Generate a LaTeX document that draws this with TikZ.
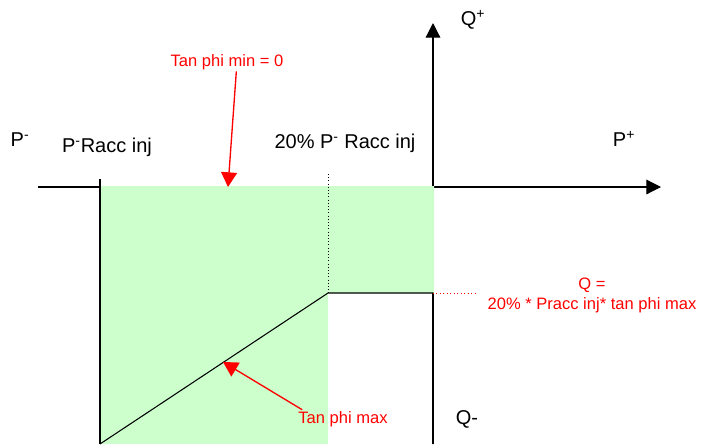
\documentclass[tikz,border=0pt]{standalone}
\usepackage{fontspec}
\setmainfont{Liberation Sans}
\usepackage{tikz}
\usetikzlibrary{arrows.meta, positioning}
\definecolor{vert}{RGB}{204,255,204}
\definecolor{rouge}{RGB}{255,0,0}

\tikzset{
	axe/.style={draw=black, line width=0.9pt, -{Triangle[length=11pt, width=11pt]}},
	trait/.style={draw=black, line width=0.8pt},
	fleche/.style={draw=rouge, line width=1pt, -{Triangle[length=11pt, width=12pt]}},
	noir/.style={inner sep=1pt, font=\fontsize{15}{17}\selectfont},
	rouget/.style={inner sep=1pt, text=rouge, font=\fontsize{12.4}{15}\selectfont, align=center}
}

\begin{document}
\begin{tikzpicture}[x=0.75pt, y=-0.75pt]
				
				\useasboundingbox (0,0) rectangle (701,444);
				
				% Points
				\coordinate (O)      at (433,187);
				\coordinate (gauche) at (38,187);
				\coordinate (droite) at (661,187);
				\coordinate (haut)   at (433,23);
				\coordinate (bas)    at (433,444);
				\coordinate (coin)   at (328,293);
				\coordinate (qmax)   at (433,293);
				
				% Axes
				\draw[axe] (gauche) -- (droite);
				\draw[axe] (bas) -- (haut);
				
				% Zone autorisee
				\fill[vert] (100,186) -- (434,186) -- (434,293) -- (328,293) -- (328,444) -- (100,444) -- cycle;
				
				% Limites
				\draw[trait] (100,179) -- (100,444);
				\draw[trait] (100,444) -- (coin) -- (qmax) -- (bas);
				\draw[black, thin, dotted] (328,174) -- (coin);
				\draw[rouge, line width=0.6pt, dotted] (qmax) -- (475,293);
				
				% Textes
				\node[noir] (pmoins) at (20,140)  {P\textsuperscript{-}};
				\node[noir] (pracc)  at (107,147) {P\textsuperscript{-}Racc inj};
				\node[noir] (pvingt) at (345,143) {20\% P\textsuperscript{-} Racc inj};
				\node[noir] (pplus)  at (624,139) {P\textsuperscript{+}};
				\node[noir] (qplus)  at (473,20)  {Q\textsuperscript{+}};
				\node[noir] (qmoins) at (467,419) {Q-};
				
				% Annotations
				\node[rouget] (tanmin) at (227,62)  {Tan phi min = 0};
				\node[rouget] (tanmax) at (343,419) {Tan phi max};
				\node[rouget] (qval)   at (592,295) {Q =\\20\% * Pracc inj* tan phi max};
				
				\coordinate (cible_min) at (228,187);
				\coordinate (cible_max) at (223,362);
				\draw[fleche] ([xshift=7pt]tanmin.south) -- (cible_min);
				\draw[fleche] ([xshift=4pt]tanmax.north west) -- (cible_max);
				
\end{tikzpicture}
\end{document}
